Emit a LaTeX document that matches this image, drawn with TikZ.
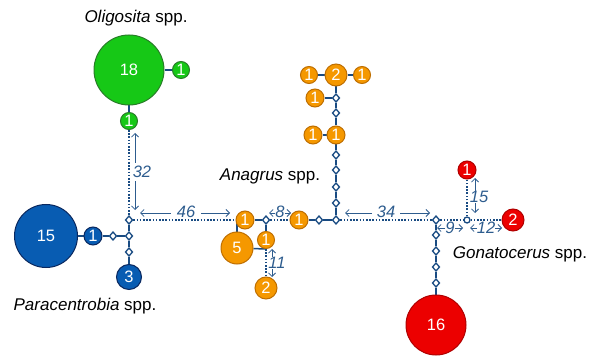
\documentclass[tikz,border=0pt]{standalone}
\usepackage{fontspec}
\setmainfont{Liberation Sans}
\usetikzlibrary{arrows.meta,shapes.geometric,backgrounds}
\definecolor{grfill}{RGB}{22,200,22}
\definecolor{grline}{RGB}{40,125,40}
\definecolor{blfill}{RGB}{8,92,178}
\definecolor{blline}{RGB}{10,40,95}
\definecolor{orfill}{RGB}{245,152,0}
\definecolor{orline}{RGB}{190,110,0}
\definecolor{rdfill}{RGB}{236,0,0}
\definecolor{rdline}{RGB}{175,0,0}
\definecolor{edge}{RGB}{25,75,130}
\definecolor{lab}{RGB}{45,92,142}
\begin{document}
\begin{tikzpicture}[x=1pt,y=-1pt,
 hap/.style={circle,draw,line width=1pt,inner sep=0pt,text=white,font=\fontsize{16.5}{16.5}\selectfont},
 gr/.style={hap,fill=grfill,draw=grline},
 bl/.style={hap,fill=blfill,draw=blline},
 orn/.style={hap,fill=orfill,draw=orline},
 rd/.style={hap,fill=rdfill,draw=rdline},
 mv/.style={diamond,draw=edge,fill=white,line width=1.3pt,inner sep=0pt,minimum width=7.5pt,minimum height=8.5pt},
 mvc/.style={circle,draw=edge,fill=white,line width=1.3pt,inner sep=0pt,minimum size=6pt},
 edgel/.style={draw=edge,line width=1.5pt},
 dotl/.style={draw=edge,line width=1.8pt,dash pattern=on 1.6pt off 1.6pt},
 dist/.style={text=lab,inner sep=0pt,font=\itshape\fontsize{16.5}{16.5}\selectfont},
 arr/.style={draw=lab,line width=0.8pt,-{Straight Barb[length=3.5pt,width=7pt]}},
 sp/.style={font=\fontsize{17}{18}\selectfont}
]
\useasboundingbox (0,0) rectangle (591,358);
% green
\node[gr,minimum size=70pt] (g18) at (129,70) {18};
\node[gr,minimum size=17pt] (g1r) at (181,70) {1};
\node[gr,minimum size=17pt] (g1b) at (129,121) {1};
% blue
\node[bl,minimum size=63pt] (b15) at (46,236) {15};
\node[bl,minimum size=18pt] (b1) at (93,236) {1};
\node[mv] (bd1) at (113,236) {};
\node[mv] (bd0) at (129,220) {};
\node[mv] (bd2) at (129,236) {};
\node[mv] (bd3) at (129,252) {};
\node[bl,minimum size=25pt] (b3) at (129,277) {3};
% orange
\node[orn,minimum size=18pt] (o1a) at (245,220) {1};
\node[orn,minimum size=32pt] (o5) at (237,248) {5};
\node[mv] (od1) at (266,220) {};
\node[orn,minimum size=17pt] (o1b) at (266,240) {1};
\coordinate (oj) at (266,249);
\node[orn,minimum size=22pt] (o2b) at (266,288) {2};
\node[orn,minimum size=18pt] (o1c) at (299,220) {1};
\node[mv] (od2) at (319,220) {};
\node[mv] (od3) at (336,220) {};
\node[mv] (od4) at (336,203) {};
\node[mv] (od5) at (336,187) {};
\node[mv] (od6) at (336,170) {};
\node[mv] (od7) at (336,155) {};
\node[orn,minimum size=18pt] (o1d) at (336,135) {1};
\node[orn,minimum size=18pt] (o1e) at (313,135) {1};
\node[mv] (od8) at (336,113) {};
\node[mv] (od9) at (336,98) {};
\node[orn,minimum size=18pt] (o1f) at (315,98) {1};
\node[orn,minimum size=22pt] (o2t) at (336,75) {2};
\node[orn,minimum size=17pt] (o1g) at (309,75) {1};
\node[orn,minimum size=17pt] (o1h) at (362,75) {1};
% red
\node[mv] (rd0) at (436,220) {};
\node[mv] (rd1) at (436,235) {};
\node[mv] (rd2) at (436,251) {};
\node[mv] (rd3) at (436,267) {};
\node[mv] (rd4) at (436,283) {};
\node[rd,minimum size=60pt] (r16) at (436,325) {16};
\node[mvc] (rmv) at (467,220) {};
\node[rd,minimum size=18pt] (r1) at (467,170) {1};
\node[rd,minimum size=22pt] (r2) at (513,220) {2};
% edges
\begin{scope}[on background layer]
\draw[edgel] (g18) -- (g1r);
\draw[edgel] (g18) -- (g1b);
\draw[dotl] (g1b) -- (bd0);
\draw[edgel] (bd0) -- (bd2) -- (bd3) -- (b3);
\draw[edgel] (bd2) -- (bd1) -- (b1) -- (b15);
\draw[dotl] (bd0) -- (o1a);
\draw[edgel] (o5) -- (o5 |- o1a);
\draw[edgel] (o1a) -- (od1) -- (o1b);
\draw[edgel] (o5) -- (oj);
\draw[dotl] (oj) -- (o2b);
\draw[dotl] (od1) -- (o1c);
\draw[edgel] (o1c) -- (od2) -- (od3) -- (od4) -- (od5) -- (od6) -- (od7) -- (o1d) -- (od8) -- (od9) -- (o2t);
\draw[edgel] (o1d) -- (o1e);
\draw[edgel] (od9) -- (o1f);
\draw[edgel] (o1g) -- (o2t) -- (o1h);
\draw[dotl] (od3) -- (rd0);
\draw[edgel] (rd0) -- (rd1) -- (rd2) -- (rd3) -- (rd4) -- (r16);
\draw[dotl] (rd0) -- (rmv) -- (r2);
\draw[dotl] (rmv) -- (r1);
\end{scope}
% species labels
\node[sp] (spo) at (136,18) {\textit{Oligosita} spp.};
\node[sp] (spp) at (85,306) {\textit{Paracentrobia} spp.};
\node[sp] (spa) at (270,176) {\textit{Anagrus} spp.};
\node[sp] (spg) at (520,254) {\textit{Gonatocerus} spp.};
% distance labels
\node[dist] (l32) at (142,172) {32};
\coordinate (a32t) at (135,133); \coordinate (a32b) at (135,210);
\draw[arr] (l32.north -| a32t) ++(0,-3) -- (a32t);
\draw[arr] (l32.south -| a32b) ++(0,3) -- (a32b);
\node[dist] (l46) at (186,212) {46};
\coordinate (a46l) at (140,213); \coordinate (a46r) at (230,213);
\draw[arr] (l46.west |- a46l) ++(-6,0) -- (a46l);
\draw[arr] (l46.east |- a46r) ++(6,0) -- (a46r);
\node[dist] (l34) at (386,212) {34};
\coordinate (a34l) at (345,213); \coordinate (a34r) at (430,213);
\draw[arr] (l34.west |- a34l) ++(-5,0) -- (a34l);
\draw[arr] (l34.east |- a34r) ++(5,0) -- (a34r);
\node[dist] (l8) at (280,212) {8};
\coordinate (a8l) at (269,213); \coordinate (a8r) at (291,213);
\draw[arr] (l8.west |- a8l) -- (a8l);
\draw[arr] (l8.east |- a8r) -- (a8r);
\node[dist] (l11) at (277,263) {11};
\coordinate (a11t) at (272,249); \coordinate (a11b) at (272,277);
\draw[arr] (l11.north -| a11t) -- (a11t);
\draw[arr] (l11.south -| a11b) -- (a11b);
\node[dist] (l9) at (450,228) {9};
\coordinate (a9l) at (437,228); \coordinate (a9r) at (463,228);
\draw[arr] (l9.west |- a9l) -- (a9l);
\draw[arr] (l9.east |- a9r) -- (a9r);
\node[dist] (l12) at (486,228) {12};
\coordinate (a12l) at (470,228); \coordinate (a12r) at (502,228);
\draw[arr] (l12.west |- a12l) -- (a12l);
\draw[arr] (l12.east |- a12r) -- (a12r);
\node[dist] (l15) at (479,197) {15};
\coordinate (a15t) at (475,178); \coordinate (a15b) at (475,213);
\draw[arr] (l15.north -| a15t) -- (a15t);
\draw[arr] (l15.south -| a15b) -- (a15b);
\end{tikzpicture}
\end{document}
